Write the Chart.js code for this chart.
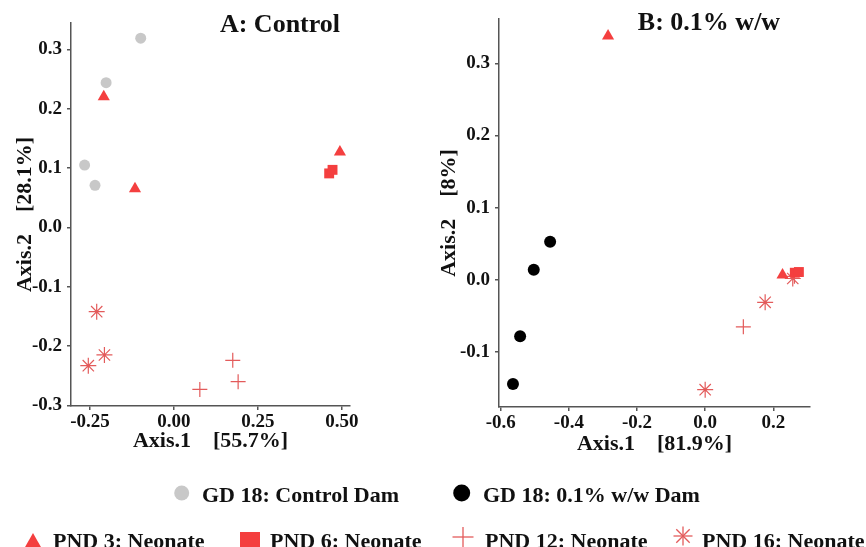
<!DOCTYPE html>
<html>
<head>
<meta charset="utf-8">
<script src="https://cdn.jsdelivr.net/npm/chart.js@4"></script>
<style>
  html, body { margin: 0; padding: 0; background: #fff; }
  body { width: 866px; height: 547px; position: relative; overflow: hidden;
         font-family: "Liberation Serif", "Times New Roman", serif; font-weight: bold; color: #111; }
  .panel { position: absolute; top: 0; }
  .ttl { position: absolute; font-size: 26px; line-height: 26px; white-space: nowrap; transform: translateX(-50%); }
  .lg { position: absolute; font-size: 22px; line-height: 22px; white-space: nowrap; }
  #marks { position: absolute; left: 0; top: 0; }
</style>
</head>
<body>
<div class="panel" style="left:0px"><canvas id="chartA" width="362" height="460"></canvas></div>
<div class="panel" style="left:422px"><canvas id="chartB" width="444" height="460"></canvas></div>

<div class="ttl" style="left:280px; top:11px">A: Control</div>
<div class="ttl" style="left:709px; top:9px">B: 0.1% w/w</div>

<svg id="marks" width="866" height="547">
  <circle cx="181.7" cy="493" r="7.5" fill="#c8c8c8"/>
  <circle cx="461.7" cy="493" r="8.5" fill="#000"/>
  <polygon points="33,533 24.5,548 41.5,548" fill="#f43f3f"/>
  <rect x="240" y="532" width="20" height="20" fill="#f43f3f"/>
  <g stroke="#e35b5b" stroke-width="1.3">
    <line x1="452.5" y1="537" x2="473.5" y2="537"/><line x1="463" y1="527" x2="463" y2="548"/>
    <line x1="673.5" y1="536" x2="692.5" y2="536"/><line x1="683" y1="526.5" x2="683" y2="545.5"/>
    <line x1="676.3" y1="529.3" x2="689.7" y2="542.7"/><line x1="689.7" y1="529.3" x2="676.3" y2="542.7"/>
  </g>
</svg>
<div class="lg" style="left:202px; top:484px">GD 18: Control Dam</div>
<div class="lg" style="left:483px; top:484px">GD 18: 0.1% w/w Dam</div>
<div class="lg" style="left:53px; top:530px">PND 3: Neonate</div>
<div class="lg" style="left:270px; top:530px">PND 6: Neonate</div>
<div class="lg" style="left:485px; top:530px">PND 12: Neonate</div>
<div class="lg" style="left:702px; top:530px">PND 16: Neonate</div>

<script>
// — Panel A: Control  ([Axis.1, Axis.2] pairs)
const controlDamA = [[-0.099, 0.319], [-0.202, 0.244], [-0.266, 0.105], [-0.235, 0.071]];
const pnd3A  = [[-0.209, 0.220], [-0.116, 0.065], [0.494, 0.127]];
const pnd6A  = [[0.462, 0.091], [0.472, 0.097]];
const pnd12A = [[0.077, -0.273], [0.175, -0.224], [0.191, -0.260]];
const pnd16A = [[-0.230, -0.142], [-0.207, -0.215], [-0.255, -0.233]];
const xTicksA = [-0.25, 0, 0.25, 0.5];
const yTicksA = [-0.3, -0.2, -0.1, 0, 0.1, 0.2, 0.3];

// — Panel B: 0.1% w/w
const dosedDamB = [[-0.455, 0.053], [-0.503, 0.014], [-0.543, -0.078], [-0.564, -0.144]];
const pnd3B  = [[-0.285, 0.338], [0.227, 0.007]];
const pnd6B  = [[0.263, 0.010], [0.275, 0.011]];
const pnd12B = [[0.112, -0.065], [0.262, 0.005]];
const pnd16B = [[0.176, -0.031], [0.000, -0.152], [0.257, 0.002]];
const xTicksB = [-0.6, -0.4, -0.2, 0, 0.2];
const yTicksB = [-0.1, 0, 0.1, 0.2, 0.3];

const colors = {
    red: '#f43f3f',
    redLine: '#e35b5b',
    grey: '#c8c8c8',
    black: '#000000',
    axis: '#555555',
    text: '#111111'
};
const serif = "'Liberation Serif', 'Times New Roman', serif";

const toPts = arr => arr.map(p => ({ x: p[0], y: p[1] }));

const marker = (label, data, style, radius, fill, stroke, width) => ({
    label,
    data: toPts(data),
    pointStyle: style,
    pointRadius: radius,
    pointHoverRadius: radius,
    backgroundColor: fill,
    borderColor: stroke,
    borderWidth: width
});

function axis(opts) {
    return {
        type: 'linear',
        position: opts.isX ? 'bottom' : 'left',
        min: opts.min,
        max: opts.max,
        afterBuildTicks: s => { s.ticks = opts.ticks.map(v => ({ value: v })); },
        afterFit: s => { if (opts.isX) s.height = opts.size; else s.width = opts.size; },
        ticks: {
            color: colors.text,
            font: { family: serif, size: 19, weight: 'bold' },
            padding: opts.isX ? 1 : 5,
            maxRotation: 0,
            callback: v => Number(v).toFixed(opts.digits)
        },
        grid: { drawOnChartArea: false, drawTicks: true, tickLength: 4, color: colors.axis, lineWidth: 1.5 },
        border: { display: true, color: colors.axis, width: 1.5 },
        title: {
            display: true,
            text: opts.title,
            color: colors.text,
            font: { family: serif, size: 22, weight: 'bold' },
            padding: opts.isX ? { top: 0, bottom: opts.titlePad } : { top: opts.titlePad, bottom: 0 }
        }
    };
}

function makePanel(id, sets, xOpts, yOpts, padding) {
    new Chart(document.getElementById(id).getContext('2d'), {
        type: 'scatter',
        data: { datasets: sets },
        options: {
            responsive: false,
            animation: false,
            layout: { padding },
            plugins: { legend: { display: false }, tooltip: { enabled: false }, title: { display: false } },
            scales: { x: axis(Object.assign({ isX: true }, xOpts)), y: axis(Object.assign({ isX: false }, yOpts)) }
        }
    });
}

const neonateSets = (p3, p6, p12, p16) => [
    marker('PND 3: Neonate', p3, 'triangle', 7, colors.red, colors.red, 0),
    marker('PND 6: Neonate', p6, 'rect', 7, colors.red, colors.red, 0),
    marker('PND 12: Neonate', p12, 'cross', 7.5, colors.redLine, colors.redLine, 1.2),
    marker('PND 16: Neonate', p16, 'star', 8, colors.redLine, colors.redLine, 1.2)
];

makePanel('chartA',
    [marker('GD 18: Control Dam', controlDamA, 'circle', 5.5, colors.grey, colors.grey, 0)]
        .concat(neonateSets(pnd3A, pnd6A, pnd12A, pnd16A)),
    { min: -0.3065, max: 0.524, ticks: xTicksA, digits: 2, title: 'Axis.1    [55.7%]', titlePad: 5, size: 54 },
    { min: -0.301, max: 0.3445, ticks: yTicksA, digits: 1, title: 'Axis.2    [28.1%]', titlePad: 12.5, size: 71 },
    { left: 0, top: 23, right: 12, bottom: 0 });

makePanel('chartB',
    [marker('GD 18: 0.1% w/w Dam', dosedDamB, 'circle', 6, colors.black, colors.black, 0)]
        .concat(neonateSets(pnd3B, pnd6B, pnd12B, pnd16B)),
    { min: -0.605, max: 0.3076, ticks: xTicksB, digits: 1, title: 'Axis.1    [81.9%]', titlePad: 2, size: 53 },
    { min: -0.176, max: 0.3615, ticks: yTicksB, digits: 1, title: 'Axis.2    [8%]', titlePad: 14, size: 77 },
    { left: 0, top: 19, right: 56, bottom: 0 });
</script>
</body>
</html>
